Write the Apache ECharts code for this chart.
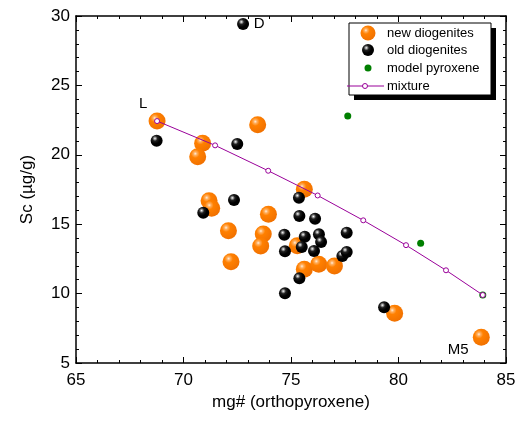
<!DOCTYPE html>
<html>
<head>
<meta charset="utf-8">
<script src="https://cdn.jsdelivr.net/npm/echarts@6/dist/echarts.min.js"></script>
<style>
  html, body { margin: 0; padding: 0; background: #fff; }
  #chart { width: 521px; height: 428px; }
</style>
</head>
<body>
<div id="chart"></div>
<script>
// values: [mg#, Sc]
const newDiogenites = [
  [68.77, 22.43], [73.45, 22.17], [70.89, 20.83], [70.66, 19.86], [75.62, 17.51],
  [71.19, 16.69], [71.31, 16.15], [73.95, 15.71], [72.09, 14.53], [73.71, 14.29],
  [73.59, 13.43], [72.21, 12.30], [75.29, 13.45], [75.62, 11.75], [76.29, 12.11],
  [77.02, 11.99], [79.82, 8.58], [83.85, 6.85]
]
const oldDiogenites = [
  [68.75, 21.02], [72.50, 20.78], [72.35, 16.74], [70.92, 15.83], [75.37, 16.91],
  [75.39, 15.59], [76.12, 15.40], [74.69, 14.24], [75.64, 14.10], [76.30, 14.27],
  [76.40, 13.72], [77.59, 14.39], [74.72, 13.05], [75.50, 13.36], [76.07, 13.07],
  [77.39, 12.71], [77.59, 13.00], [75.39, 11.10], [74.72, 10.02], [79.33, 9.01],
  [72.77, 29.42]
]
const modelPyroxene = [[77.64, 22.80], [81.03, 13.62], [83.92, 9.90]]
const mixture = [
  [68.77, 22.43], [71.47, 20.68], [73.94, 18.85], [76.24, 17.07],
  [78.36, 15.28], [80.35, 13.49], [82.21, 11.68], [83.92, 9.90]
]
const seriesNames = ['new diogenites', 'old diogenites', 'model pyroxene', 'mixture']
// point labels: [series, index, text, offset]
const pointLabels = [
  ['new', 0, 'L', [-14, -17]],
  ['old', 20, 'D', [16, 0]],
  ['new', 17, 'M5', [-23, 13]]
]

const FONT = 'Liberation Sans, Arial, sans-serif'
const PURPLE = '#990099'
const GREEN = '#007f00'

function sphere(stops) {
  return {
    type: 'radial', x: 0.36, y: 0.32, r: 0.72,
    colorStops: stops.map(s => ({ offset: s[0], color: s[1] }))
  }
}
const orange = sphere([[0, '#ffeedd'], [0.14, '#ffb060'], [0.35, '#ff8000'], [1, '#f07000']])
const black = sphere([[0, '#ffffff'], [0.1, '#b0b0b0'], [0.3, '#202020'], [0.6, '#000'], [1, '#000']])

function withLabels(points, key) {
  return points.map((p, i) => {
    const lab = pointLabels.find(l => l[0] === key && l[1] === i)
    if (!lab) return p
    return {
      value: p,
      label: {
        show: true, position: 'inside', offset: lab[3], formatter: lab[2],
        color: '#000', textBorderWidth: 0, fontSize: 15, fontFamily: FONT
      }
    }
  })
}

// hand drawn legend box (with drop shadow like the original)
const lx = 349, ly = 23, lw = 142, lh = 72
const rowY = [33, 50, 68, 86]
const legendGraphic = [
  { type: 'rect', shape: { x: lx + 5, y: ly + 5, width: lw, height: lh }, style: { fill: '#000' }, z: 10 },
  { type: 'rect', shape: { x: lx, y: ly, width: lw, height: lh }, style: { fill: '#fff', stroke: '#000', lineWidth: 1 }, z: 11 },
  { type: 'circle', shape: { cx: 368, cy: rowY[0], r: 7.5 }, style: { fill: orange }, z: 12 },
  { type: 'circle', shape: { cx: 368, cy: rowY[1], r: 6 }, style: { fill: black }, z: 12 },
  { type: 'circle', shape: { cx: 368, cy: rowY[2], r: 3.5 }, style: { fill: GREEN }, z: 12 },
  { type: 'line', shape: { x1: 347, y1: rowY[3], x2: 384, y2: rowY[3] }, style: { stroke: PURPLE, lineWidth: 1 }, z: 12 },
  { type: 'circle', shape: { cx: 365, cy: rowY[3], r: 2.5 }, style: { fill: '#fff', stroke: PURPLE, lineWidth: 1 }, z: 13 }
].concat(seriesNames.map((n, i) => ({
  type: 'text', x: 387, y: rowY[i], z: 12,
  style: { text: n, fill: '#000', font: '13px ' + FONT, verticalAlign: 'middle' }
})))

const chart = echarts.init(document.getElementById('chart'))

const axisCommon = {
  min: 65, max: 85, interval: 5,
  axisLine: { show: true, onZero: false, lineStyle: { color: '#000', width: 1.5 } },
  axisTick: { show: true, inside: true, length: 6, lineStyle: { color: '#000' } },
  minorTick: { show: true, splitNumber: 5, length: 3, lineStyle: { color: '#000' } },
  splitLine: { show: false }
}

chart.setOption({
  animation: false,
  grid: { left: 76, top: 16, right: 15, bottom: 65 },
  textStyle: { fontFamily: FONT },
  graphic: legendGraphic,
  xAxis: [
    Object.assign({}, axisCommon, {
      type: 'value', position: 'bottom',
      name: 'mg# (orthopyroxene)', nameLocation: 'middle', nameGap: 31,
      nameTextStyle: { fontSize: 17, color: '#000', fontFamily: FONT },
      axisLabel: { fontSize: 17, color: '#000', margin: 9, fontFamily: FONT }
    }),
    Object.assign({}, axisCommon, {
      type: 'value', position: 'top', axisLabel: { show: false }
    })
  ],
  yAxis: [
    Object.assign({}, axisCommon, {
      type: 'value', min: 5, max: 30, interval: 5, position: 'left',
      name: 'Sc (µg/g)', nameLocation: 'middle', nameGap: 40,
      nameTextStyle: { fontSize: 17, color: '#000', fontFamily: FONT },
      axisLabel: { fontSize: 17, color: '#000', margin: 6, fontFamily: FONT }
    }),
    Object.assign({}, axisCommon, {
      type: 'value', min: 5, max: 30, interval: 5, position: 'right',
      axisLabel: { show: false }
    })
  ],
  series: [
    {
      name: seriesNames[0], type: 'scatter', data: withLabels(newDiogenites, 'new'),
      symbolSize: 17, itemStyle: { color: orange, opacity: 1 }, z: 2
    },
    {
      name: seriesNames[1], type: 'scatter', data: withLabels(oldDiogenites, 'old'),
      symbolSize: 12, itemStyle: { color: black, opacity: 1 }, z: 3
    },
    {
      name: seriesNames[2], type: 'scatter', data: modelPyroxene,
      symbolSize: 7, itemStyle: { color: GREEN, opacity: 1 }, z: 4
    },
    {
      name: seriesNames[3], type: 'line', data: mixture,
      symbol: 'circle', symbolSize: 5, showAllSymbol: true,
      lineStyle: { color: PURPLE, width: 1 },
      itemStyle: { color: '#fff', borderColor: PURPLE, borderWidth: 1 },
      z: 5
    }
  ]
})
</script>
</body>
</html>
